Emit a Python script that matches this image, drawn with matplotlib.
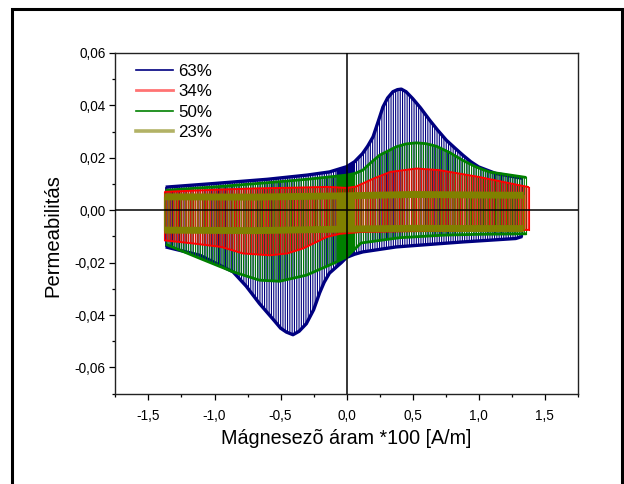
import numpy as np
import matplotlib
matplotlib.use("Agg")
import matplotlib.pyplot as plt
from matplotlib.ticker import MultipleLocator, FuncFormatter
from matplotlib.patches import Rectangle
from matplotlib.lines import Line2D

plt.rcParams['font.family'] = ['Liberation Sans', 'DejaVu Sans']

# ---- data: outer envelopes of the permeability sweeps --------------------
labels = ['63%', '34%', '50%', '23%']
colors = ['#000080', '#ff0000', '#008000', '#808000']

# 63 %
x63_up = [-1.37, -1.0, -0.6, -0.3, -0.13, 0.0, 0.06, 0.12, 0.16, 0.2, 0.24, 0.275,
          0.31, 0.35, 0.385, 0.414, 0.45, 0.5, 0.56, 0.628, 0.69, 0.755, 0.82, 0.88,
          0.94, 1.0, 1.13, 1.33]
y63_up = [0.0088, 0.0102, 0.0118, 0.0134, 0.0146, 0.0166, 0.0185, 0.0216, 0.0245,
          0.0280, 0.0340, 0.0394, 0.0428, 0.0452, 0.0460, 0.0462, 0.0452, 0.0426,
          0.0390, 0.0344, 0.0305, 0.0267, 0.0237, 0.0210, 0.0185, 0.0165, 0.0140, 0.0122]
x63_lo = [-1.37, -1.11, -0.86, -0.76, -0.66, -0.55, -0.50, -0.456, -0.406, -0.36,
          -0.305, -0.25, -0.204, -0.17, -0.13, -0.04, 0.0, 0.06, 0.123, 0.376, 0.88,
          1.28, 1.33]
y63_lo = [-0.0140, -0.0172, -0.0235, -0.0290, -0.0356, -0.0420, -0.0450, -0.0465,
          -0.0475, -0.0462, -0.0433, -0.0380, -0.0315, -0.0275, -0.0240, -0.0200,
          -0.0180, -0.0168, -0.0159, -0.0140, -0.0121, -0.0108, -0.0100]

# 50 %
x50_up = [-1.37, -1.0, -0.6, -0.3, 0.0, 0.06, 0.123, 0.18, 0.25, 0.376, 0.45, 0.527,
          0.6, 0.68, 0.78, 0.88, 0.98, 1.08, 1.36]
y50_up = [0.0076, 0.0089, 0.0105, 0.0118, 0.0134, 0.0140, 0.0153, 0.0180, 0.0210,
          0.0242, 0.0253, 0.0257, 0.0254, 0.0244, 0.0220, 0.0190, 0.0165, 0.0146, 0.0125]
x50_lo = [-1.37, -1.11, -0.86, -0.66, -0.507, -0.305, -0.10, 0.0, 0.11, 0.4, 0.74,
          1.0, 1.36]
y50_lo = [-0.0130, -0.0184, -0.0235, -0.0267, -0.0271, -0.0248, -0.0203, -0.0178,
          -0.0125, -0.0105, -0.0095, -0.0092, -0.0090]

# 34 %
x34_up = [-1.38, -1.0, -0.7, -0.4, -0.14, 0.0, 0.07, 0.2, 0.33, 0.53, 0.7, 1.0,
          1.31, 1.38]
y34_up = [0.0070, 0.0078, 0.0083, 0.0086, 0.0089, 0.0085, 0.0090, 0.0120, 0.0146,
          0.0159, 0.0153, 0.0127, 0.0095, 0.0088]
x34_lo = [-1.38, -1.16, -0.95, -0.785, -0.58, -0.45, -0.33, -0.15, -0.05, 0.11, 0.5,
          1.0, 1.25, 1.38]
y34_lo = [-0.0115, -0.0127, -0.0140, -0.0165, -0.0172, -0.0165, -0.0146, -0.0102,
          -0.0090, -0.0083, -0.0080, -0.0078, -0.0076, -0.0075]

# 23 %
x23 = [-1.38, -0.7, 0.0, 0.5, 1.0, 1.34]
y23_up = [0.0051, 0.0050, 0.0055, 0.0060, 0.0058, 0.0057]
y23_lo = [-0.0076, -0.0078, -0.0072, -0.0069, -0.0070, -0.0070]

# dense section of the sweep around zero current
core_range = (-0.08, 0.06)

fig = plt.figure(figsize=(6.24, 4.84), dpi=100)
ax = fig.add_axes([0.185, 0.1866, 0.741, 0.704])
ax.set_xlim(-1.75, 1.75)
ax.set_ylim(-0.07, 0.06)
px_per_unit = ax.bbox.width / 3.5


def draw_band(xu, yu, xl, yl, color, spacing_px, offset_px, edge_lw, z,
              core=True, stroke_px=0.8):
    """Sweep strokes between the lower and upper envelope plus the envelope edges."""
    xu, yu, xl, yl = map(np.asarray, (xu, yu, xl, yl))
    x0, x1 = max(xu[0], xl[0]), min(xu[-1], xl[-1])
    xs = np.arange(x0 + offset_px / px_per_unit, x1, spacing_px / px_per_unit)
    ax.vlines(xs, np.interp(xs, xl, yl), np.interp(xs, xu, yu), colors=color,
              lw=stroke_px * 0.72, zorder=z, snap=False)
    if core:
        xc = np.linspace(core_range[0], core_range[1], 30)
        ax.fill_between(xc, np.interp(xc, xl, yl), np.interp(xc, xu, yu),
                        color=color, lw=0, zorder=z)
    ax.plot(xu, yu, color=color, lw=edge_lw, zorder=z, solid_capstyle='butt',
            solid_joinstyle='round')
    ax.plot(xl, yl, color=color, lw=edge_lw, zorder=z, solid_capstyle='butt',
            solid_joinstyle='round')
    ax.plot([xu[0], xl[0]], [yu[0], yl[0]], color=color, lw=0.8, zorder=z)
    ax.plot([xu[-1], xl[-1]], [yu[-1], yl[-1]], color=color, lw=0.8, zorder=z)


draw_band(x63_up, y63_up, x63_lo, y63_lo, colors[0], 2.3, 0.0, 2.4, 2, stroke_px=1.1)
draw_band(x50_up, y50_up, x50_lo, y50_lo, colors[2], 2.4, 1.1, 2.0, 3, stroke_px=1.1)
draw_band(x34_up, y34_up, x34_lo, y34_lo, colors[1], 1.7, 0.5, 1.4, 4, core=False,
          stroke_px=0.9)
draw_band(x23, y23_up, x23, y23_lo, colors[3], 2.9, 1.6, 5.0, 5, stroke_px=1.0)

ax.axhline(0, color='black', lw=1.1, zorder=10)
ax.axvline(0, color='black', lw=1.1, zorder=10)

ax.xaxis.set_major_locator(MultipleLocator(0.5))
ax.xaxis.set_minor_locator(MultipleLocator(0.25))
ax.yaxis.set_major_locator(MultipleLocator(0.02))
ax.yaxis.set_minor_locator(MultipleLocator(0.01))
ax.xaxis.set_major_formatter(FuncFormatter(lambda v, p: f"{v:.1f}".replace('.', ',')))
ax.yaxis.set_major_formatter(FuncFormatter(lambda v, p: f"{v:.2f}".replace('.', ',')))
ax.tick_params(which='both', direction='out', top=False, right=False,
               labelsize=9.8, width=0.9)
ax.tick_params(axis='x', which='major', length=4, pad=7)
ax.tick_params(axis='y', which='major', length=4.5, pad=2.5)
ax.tick_params(which='minor', length=2.5)
for s in ax.spines.values():
    s.set_linewidth(1.0)
    s.set_color('#222222')

fig.text(0.5555, 1 - 439 / 484, 'Mágnesezõ áram *100 [A/m]', ha='center',
         va='center', fontsize=14.2)
fig.text(53 / 624, 1 - 236 / 484, 'Permeabilitás', ha='center', va='center',
         rotation=90, fontsize=14.6)

handles = [Line2D([], [], color=colors[0], lw=1.2),
           Line2D([], [], color=colors[1], lw=2.0, alpha=0.55),
           Line2D([], [], color=colors[2], lw=1.2),
           Line2D([], [], color=colors[3], lw=2.6, alpha=0.6)]
ax.legend(handles, labels, loc='upper left', frameon=False, fontsize=12.2,
          bbox_to_anchor=(136 / 624, 1 - 64 / 484), bbox_transform=fig.transFigure,
          borderpad=0, borderaxespad=0, handlelength=2.2, handletextpad=0.3,
          labelspacing=0.32)

# outer frame of the figure
fig.add_artist(Rectangle((12 / 624, -0.05), 610 / 624, 1.05 - 9 / 484,
                         transform=fig.transFigure, fill=False, lw=2.2,
                         edgecolor='black'))

fig.savefig('out.png', dpi=100)
